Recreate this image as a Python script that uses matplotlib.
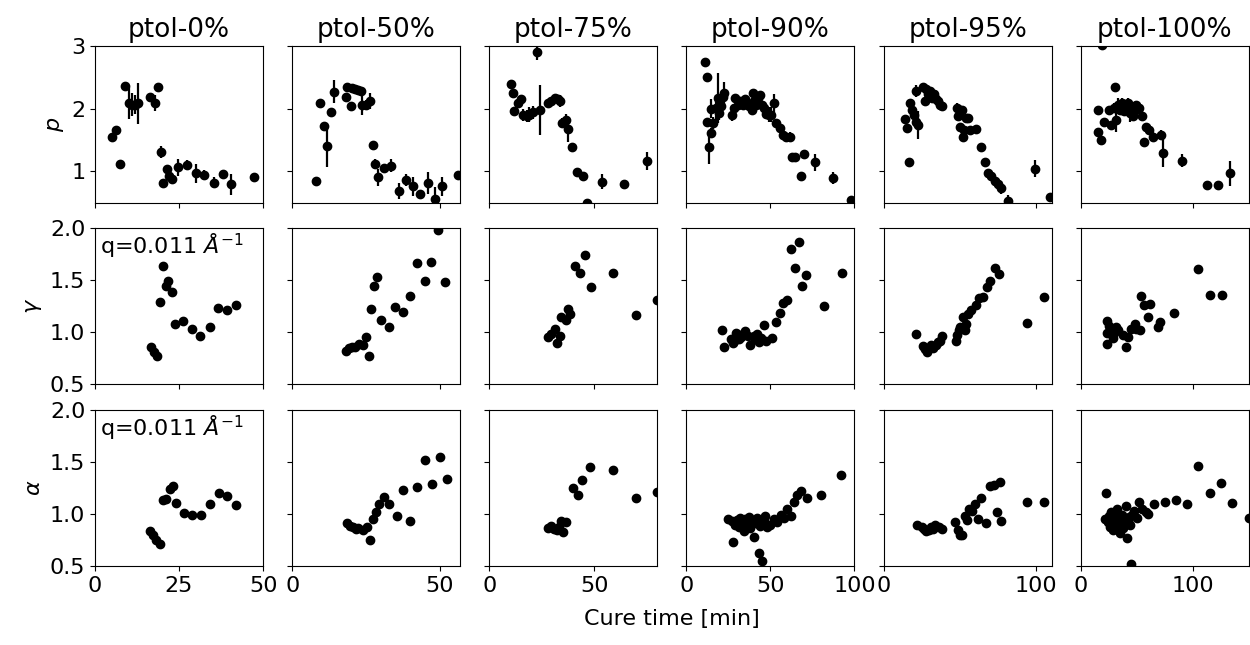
import matplotlib
matplotlib.use("Agg")
import matplotlib.pyplot as plt

plt.rcParams["font.size"] = 16

titles = ["ptol-0%", "ptol-50%", "ptol-75%", "ptol-90%", "ptol-95%", "ptol-100%"]
xlims = [50, 57, 80, 100, 110, 150]
xticks = [[0, 25, 50], [0, 50], [0, 50], [0, 50, 100], [0, 100], [0, 100]]

# ---- p (row 1), with error bars ----
p0_t = [5.0, 6.3, 7.5, 8.8, 10.0, 11.0, 11.8, 12.8, 16.5, 17.8, 18.7, 19.5, 20.3, 21.3, 22.0, 23.0, 24.7, 27.5, 30.0, 32.5, 35.3, 38.0, 40.5, 47.3]
p0 = [1.54, 1.65, 1.11, 2.36, 2.08, 2.06, 2.06, 2.08, 2.18, 2.09, 2.35, 1.31, 0.82, 1.04, 0.93, 0.88, 1.06, 1.10, 0.97, 0.94, 0.82, 0.96, 0.79, 0.90]
p0_err = [0.03, 0.03, 0.03, 0.03, 0.24, 0.18, 0.15, 0.32, 0.05, 0.13, 0.06, 0.10, 0.06, 0.05, 0.05, 0.05, 0.13, 0.08, 0.15, 0.08, 0.08, 0.03, 0.17, 0.03]

p50_t = [8.2, 9.6, 10.7, 11.9, 13.2, 14.3, 18.1, 18.6, 19.8, 20.3, 21.4, 22.3, 23.5, 23.7, 25.2, 26.3, 27.3, 28.0, 29.0, 31.3, 33.6, 36.1, 38.6, 41.0, 43.5, 46.0, 48.3, 50.8, 56.4]
p50 = [0.84, 2.08, 1.72, 1.40, 1.94, 2.27, 2.19, 2.35, 2.04, 2.32, 2.31, 2.30, 2.28, 2.05, 2.06, 2.12, 1.42, 1.12, 0.90, 1.05, 1.09, 0.69, 0.86, 0.76, 0.63, 0.81, 0.55, 0.76, 0.94]
p50_err = [0.03, 0.03, 0.05, 0.33, 0.05, 0.18, 0.05, 0.05, 0.05, 0.04, 0.04, 0.04, 0.04, 0.15, 0.08, 0.13, 0.05, 0.08, 0.13, 0.05, 0.10, 0.13, 0.10, 0.15, 0.05, 0.18, 0.20, 0.15, 0.05]

p75_t = [10.2, 11.2, 11.9, 13.5, 15.1, 16.2, 17.8, 19.0, 20.6, 22.5, 24.1, 28.0, 29.6, 31.1, 32.7, 33.8, 34.7, 36.3, 37.4, 39.5, 41.8, 44.5, 46.4, 53.6, 64.2, 75.2]
p75 = [2.39, 2.25, 1.96, 2.09, 2.15, 1.90, 1.88, 1.90, 1.94, 2.90, 1.98, 2.09, 2.12, 2.17, 2.15, 2.12, 1.77, 1.82, 1.67, 1.38, 0.98, 0.93, 0.50, 0.83, 0.79, 1.16]
p75_err = [0.03, 0.03, 0.03, 0.06, 0.05, 0.10, 0.10, 0.12, 0.10, 0.12, 0.40, 0.05, 0.05, 0.05, 0.05, 0.10, 0.08, 0.10, 0.20, 0.05, 0.04, 0.05, 0.06, 0.12, 0.07, 0.14]

p90_t = [11.2, 12.0, 12.5, 13.5, 14.5, 14.9, 16.1, 17.5, 18.5, 19.5, 20.5, 21.5, 22.5, 27.1, 28.1, 29.1, 30.5, 32.1, 33.5, 34.9,
         36.1, 37.5, 38.8, 39.4, 40.4, 41.4, 42.4, 44.0, 44.8, 46.0, 47.4, 49.0, 50.4, 52.0, 53.4, 55.4, 57.4, 59.4, 61.4, 62.7,
         64.7, 67.9, 69.9, 76.3, 87.3, 97.8]
p90 = [2.74, 2.50, 1.79, 1.39, 1.61, 2.00, 1.77, 2.01, 2.17, 1.93, 2.04, 2.19, 2.25, 1.90, 2.01, 2.16, 2.06, 2.12, 2.06, 2.15,
       2.08, 2.04, 1.98, 2.25, 2.12, 2.06, 2.17, 2.21, 2.06, 2.01, 1.92, 1.90, 1.90, 2.08, 1.77, 1.69, 1.58, 1.55, 1.55, 1.22,
       1.23, 0.93, 1.28, 1.14, 0.89, 0.54]
p90_err = [0.03, 0.03, 0.05, 0.27, 0.08, 0.15, 0.10, 0.20, 0.40, 0.12, 0.10, 0.10, 0.18, 0.10, 0.06, 0.06, 0.06, 0.06, 0.06, 0.06,
           0.08, 0.06, 0.08, 0.06, 0.06, 0.06, 0.06, 0.06, 0.06, 0.06, 0.06, 0.12, 0.12, 0.15, 0.06, 0.06, 0.06, 0.08, 0.08, 0.04,
           0.04, 0.03, 0.06, 0.14, 0.10, 0.03]

p95_t = [13.8, 15.3, 16.6, 17.5, 18.8, 19.9, 21.4, 21.4, 22.5, 25.8, 26.9, 27.9, 29.0, 30.6, 31.9, 32.8, 34.1, 35.6, 37.1, 38.4,
         48.0, 48.7, 49.8, 49.8, 51.5, 52.0, 52.4, 54.1, 55.2, 56.3, 60.7, 64.0, 66.2, 68.3, 70.5, 72.7, 74.9, 76.6, 81.4, 99.3, 109.2]
p95 = [1.83, 1.69, 1.15, 2.09, 1.98, 1.90, 2.28, 1.79, 1.74, 2.34, 2.12, 2.31, 2.23, 2.28, 2.17, 2.23, 2.15, 2.12, 2.06, 2.04,
       2.01, 1.88, 1.98, 1.71, 1.97, 1.54, 1.65, 1.85, 1.85, 1.65, 1.67, 1.38, 1.15, 0.97, 0.93, 0.85, 0.79, 0.74, 0.52, 1.04, 0.59]
p95_err = [0.05, 0.04, 0.03, 0.06, 0.08, 0.10, 0.10, 0.06, 0.22, 0.04, 0.04, 0.04, 0.04, 0.04, 0.04, 0.04, 0.04, 0.04, 0.04, 0.04,
           0.08, 0.05, 0.05, 0.05, 0.05, 0.05, 0.05, 0.05, 0.05, 0.05, 0.05, 0.04, 0.04, 0.05, 0.05, 0.06, 0.08, 0.10, 0.10, 0.14, 0.03]

p100_t = [15.4, 15.4, 18.4, 19.0, 20.8, 24.9, 27.3, 29.7, 30.9, 31.8, 33.2, 34.7, 36.8, 38.6, 40.7, 42.1, 43.6, 45.1, 46.6, 48.1,
          49.6, 51.6, 54.6, 56.4, 58.5, 61.4, 64.4, 71.8, 73.3, 90.5, 112.5, 122.8, 133.2]
p100 = [1.97, 1.63, 1.50, 3.02, 1.79, 1.98, 1.74, 2.01, 2.34, 1.82, 2.06, 1.98, 2.09, 1.96, 2.04, 2.09, 1.93, 2.01, 1.88, 1.98,
        2.06, 2.01, 1.88, 1.47, 1.70, 1.66, 1.55, 1.58, 1.29, 1.17, 0.78, 0.78, 0.97]
p100_err = [0.03, 0.03, 0.03, 0.03, 0.05, 0.06, 0.06, 0.08, 0.05, 0.20, 0.10, 0.08, 0.08, 0.06, 0.08, 0.08, 0.15, 0.08, 0.08, 0.06,
            0.06, 0.06, 0.06, 0.04, 0.05, 0.06, 0.08, 0.08, 0.22, 0.10, 0.07, 0.07, 0.20]

# ---- gamma (row 2) ----
g0_t = [16.7, 17.5, 18.5, 19.3, 20.2, 21.0, 21.8, 22.8, 23.7, 26.3, 28.9, 31.3, 34.1, 36.7, 39.3, 41.8]
g0 = [0.86, 0.81, 0.77, 1.29, 1.63, 1.44, 1.49, 1.38, 1.08, 1.11, 1.03, 0.96, 1.05, 1.23, 1.21, 1.26]

g50_t = [18.1, 19.2, 20.3, 21.4, 22.6, 23.9, 25.2, 26.0, 26.9, 27.7, 28.8, 30.2, 32.7, 35.0, 37.5, 40.0, 42.4, 44.9, 47.1, 49.6, 51.9]
g50 = [0.82, 0.85, 0.86, 0.86, 0.89, 0.88, 0.95, 0.77, 1.22, 1.44, 1.53, 1.12, 1.05, 1.24, 1.19, 1.35, 1.66, 1.49, 1.67, 1.98, 1.48]

g75_t = [28.0, 29.6, 31.1, 32.2, 33.5, 34.3, 36.3, 37.4, 38.2, 40.6, 43.4, 45.8, 48.4, 59.1, 70.0, 80.0]
g75 = [0.95, 0.98, 1.03, 0.90, 0.96, 1.15, 1.12, 1.22, 1.17, 1.63, 1.57, 1.74, 1.43, 1.57, 1.16, 1.31]

g90_t = [21.1, 22.1, 26.5, 27.5, 28.5, 29.5, 30.1, 31.5, 32.5, 33.5, 35.1, 36.5, 38.0, 40.0, 41.0, 42.0, 43.2, 44.4, 46.0, 47.4,
         51.0, 53.4, 55.4, 57.4, 60.0, 62.4, 64.7, 66.7, 68.9, 71.3, 81.7, 92.6]
g90 = [1.02, 0.86, 0.93, 0.90, 0.92, 0.99, 0.97, 0.93, 0.95, 0.98, 1.01, 0.96, 0.88, 0.96, 0.93, 0.98, 0.91, 0.94, 1.07, 0.92,
       0.94, 1.10, 1.18, 1.28, 1.31, 1.80, 1.61, 1.86, 1.44, 1.55, 1.25, 1.57]

g95_t = [21.4, 25.8, 26.9, 28.4, 29.7, 31.2, 32.3, 34.1, 35.6, 37.1, 38.4, 47.2, 48.0, 49.3, 50.2, 51.9, 53.0, 54.1, 55.2, 57.4,
         60.3, 62.4, 65.1, 67.7, 69.9, 72.7, 75.5, 93.9, 104.8]
g95 = [0.98, 0.87, 0.84, 0.81, 0.85, 0.88, 0.85, 0.88, 0.91, 0.92, 0.96, 0.92, 0.97, 1.02, 1.05, 1.15, 1.02, 1.08, 1.17, 1.21,
       1.26, 1.33, 1.34, 1.43, 1.49, 1.61, 1.56, 1.09, 1.34]

g100_t = [23.7, 23.7, 23.7, 25.2, 27.3, 28.8, 29.7, 31.8, 33.2, 37.7, 40.1, 42.1, 45.1, 48.1, 49.6, 52.5, 54.0, 56.1, 59.9, 62.3,
          69.4, 71.2, 83.7, 105.0, 115.4, 125.8]
g100 = [1.11, 0.99, 0.89, 1.06, 1.03, 0.94, 0.99, 1.05, 1.02, 0.97, 0.86, 0.95, 1.03, 1.08, 1.03, 1.02, 1.35, 1.26, 1.15, 1.27,
        1.05, 1.10, 1.18, 1.60, 1.36, 1.36]

# ---- alpha (row 3) ----
a0_t = [16.5, 17.3, 18.2, 19.2, 20.2, 21.2, 22.3, 23.2, 24.2, 26.5, 29.0, 31.5, 34.2, 36.8, 39.3, 41.8]
a0 = [0.84, 0.80, 0.75, 0.71, 1.13, 1.14, 1.24, 1.27, 1.11, 1.01, 0.99, 0.99, 1.10, 1.20, 1.17, 1.09]

a50_t = [18.5, 19.5, 20.5, 21.5, 22.5, 24.0, 25.5, 26.5, 27.5, 28.5, 29.5, 31.0, 33.0, 35.5, 37.5, 40.0, 42.5, 45.0, 47.5, 50.0, 52.5]
a50 = [0.91, 0.89, 0.88, 0.86, 0.87, 0.85, 0.88, 0.75, 0.95, 1.02, 1.10, 1.16, 1.10, 0.98, 1.23, 0.93, 1.26, 1.52, 1.29, 1.55, 1.34]

a75_t = [28.0, 29.5, 31.0, 32.0, 33.0, 34.0, 35.0, 36.5, 40.0, 42.0, 44.0, 48.0, 59.0, 70.0, 80.0]
a75 = [0.87, 0.89, 0.86, 0.85, 0.88, 0.93, 0.83, 0.92, 1.25, 1.18, 1.33, 1.45, 1.42, 1.15, 1.21]

a90_t = [25, 27, 28, 29, 30, 31, 32, 33, 34, 35, 36, 37, 38, 39, 40, 41, 42, 43, 44, 45,
         46, 47, 48, 50, 52, 54, 56, 58, 60, 62, 64, 66, 68, 72, 80, 92]
a90 = [0.95, 0.93, 0.73, 0.90, 0.94, 0.88, 0.96, 0.92, 0.84, 0.95, 0.90, 0.97, 0.87, 0.94, 0.78, 0.91, 0.96, 0.63, 0.89, 0.55,
       0.93, 0.98, 0.88, 0.90, 0.95, 0.92, 0.99, 0.96, 1.05, 0.98, 1.12, 1.18, 1.22, 1.15, 1.18, 1.37]

a95_t = [22, 25, 26.5, 28, 29.5, 31, 32.5, 34, 36, 38, 47, 48.5, 50, 51.5, 53, 54.5, 56, 58, 60, 62,
         64, 67, 70, 72, 74, 76, 77, 94, 105]
a95 = [0.90, 0.88, 0.86, 0.84, 0.85, 0.88, 0.86, 0.90, 0.88, 0.86, 0.92, 0.85, 0.80, 0.80, 0.98, 0.94, 1.05, 1.03, 1.10, 0.95,
       1.15, 0.91, 1.27, 1.28, 1.02, 1.31, 0.93, 1.12, 1.12]

a100_t = [22, 23, 24, 25, 26, 27, 28, 29, 30, 31, 32, 33, 34, 35, 36, 37, 38, 39, 40, 41,
          42, 43, 44, 45, 46, 48, 50, 52, 55, 58, 60, 65, 75, 85, 95, 105, 115, 125, 135, 150]
a100 = [0.95, 1.20, 0.92, 0.98, 0.88, 1.02, 0.93, 0.85, 0.97, 0.90, 1.05, 0.88, 0.96, 0.82, 0.92, 0.99, 0.87, 0.94, 1.08, 0.77,
        0.93, 0.97, 0.90, 0.52, 0.99, 1.03, 0.96, 1.12, 1.05, 1.02, 1.00, 1.10, 1.12, 1.13, 1.10, 1.46, 1.20, 1.30, 1.11, 0.96]

p_sets = [(p0_t, p0, p0_err), (p50_t, p50, p50_err), (p75_t, p75, p75_err),
          (p90_t, p90, p90_err), (p95_t, p95, p95_err), (p100_t, p100, p100_err)]
g_sets = [(g0_t, g0), (g50_t, g50), (g75_t, g75), (g90_t, g90), (g95_t, g95), (g100_t, g100)]
a_sets = [(a0_t, a0), (a50_t, a50), (a75_t, a75), (a90_t, a90), (a95_t, a95), (a100_t, a100)]

fig, axes = plt.subplots(3, 6, figsize=(12.5, 6.45), dpi=100, sharex="col", sharey="row")
fig.subplots_adjust(left=0.076, right=0.999, top=0.929, bottom=0.122, wspace=0.173, hspace=0.16)

for j in range(6):
    t, p, e = p_sets[j]
    axes[0, j].errorbar(t, p, yerr=e, fmt="o", color="k", ms=6, elinewidth=1.6, capsize=0)
    axes[1, j].plot(g_sets[j][0], g_sets[j][1], "o", color="k", ms=6)
    axes[2, j].plot(a_sets[j][0], a_sets[j][1], "o", color="k", ms=6)
    axes[0, j].set_title(titles[j], fontsize=19)
    axes[2, j].set_xlim(0, xlims[j])
    axes[2, j].set_xticks(xticks[j])

axes[0, 0].set_ylim(0.5, 3)
axes[0, 0].set_yticks([1, 2, 3])
for i in (1, 2):
    axes[i, 0].set_ylim(0.5, 2.0)
    axes[i, 0].set_yticks([0.5, 1.0, 1.5, 2.0])
    axes[i, 0].text(0.03, 0.975, r"q=0.011 $\AA^{-1}$", transform=axes[i, 0].transAxes,
                    ha="left", va="top", fontsize=16)

axes[0, 0].set_ylabel(r"$p$")
axes[1, 0].set_ylabel(r"$\gamma$")
axes[2, 0].set_ylabel(r"$\alpha$")

fig.text(0.5375, 0.04, "Cure time [min]", ha="center", va="center", fontsize=16)

fig.savefig("out.png")
